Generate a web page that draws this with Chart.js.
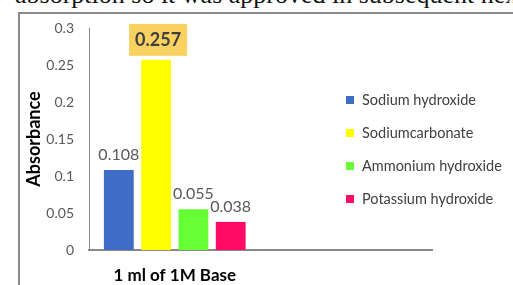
<!DOCTYPE html>
<html><head><meta charset="utf-8">
<script src="https://cdn.jsdelivr.net/npm/chart.js@4"></script>
<style>
html,body{margin:0;padding:0;background:#fff;width:513px;height:285px;overflow:hidden;position:relative}
#top{position:absolute;left:15px;top:-18px;font:26px "Liberation Serif";line-height:26px;white-space:nowrap;color:#111}
#frame{position:absolute;left:18px;top:12px;width:600px;height:400px;border:2px solid #8a8a8a;box-sizing:border-box}
#wrap{position:absolute;left:0;top:0;width:513px;height:285px}
</style></head><body>
<div id="top">absorption so it was approved in subsequent next</div>
<div id="frame"></div>
<div id="wrap"><canvas id="c" width="513" height="285"></canvas></div>
<script>
const categories = ["1 ml of 1M Base", ""];
const seriesNames = ["Sodium hydroxide", "Sodiumcarbonate", "Ammonium hydroxide", "Potassium hydroxide"];
const sodiumHydroxide = [0.108, null];
const sodiumCarbonate = [0.257, null];
const ammoniumHydroxide = [0.055, null];
const potassiumHydroxide = [0.038, null];
const seriesColors = ["#3f6cc4", "#ffff00", "#66ff33", "#ff0a64"];
const yTickLabels = ["0", "0.05", "0.1", "0.15", "0.2", "0.25", "0.3"];
const highlightedSeries = 1;

const seriesValues = [sodiumHydroxide, sodiumCarbonate, ammoniumHydroxide, potassiumHydroxide];
const FONT = 'Lato, "Open Sans", sans-serif';

const labelPlugin = {
  id: 'lbl',
  afterDatasetsDraw(chart) {
    const ctx = chart.ctx;
    ctx.save();
    chart.data.datasets.forEach((ds, i) => {
      const meta = chart.getDatasetMeta(i);
      meta.data.forEach((bar, j) => {
        const v = ds.data[j];
        if (v == null) return;
        const text = String(v);
        ctx.textAlign = 'center';
        ctx.textBaseline = 'middle';
        if (i === highlightedSeries) {
          ctx.font = 'bold 18px ' + FONT;
          const w = ctx.measureText(text).width + 12;
          const cy = bar.y - 20;
          ctx.fillStyle = '#f8d160';
          ctx.fillRect(bar.x + 2 - w / 2, cy - 16, w, 32);
          ctx.fillStyle = '#404040';
          ctx.fillText(text, bar.x + 2, cy);
        } else {
          ctx.font = '16px ' + FONT;
          ctx.fillStyle = '#595959';
          ctx.fillText(text, bar.x, bar.y - 15);
        }
      });
    });
    // legend
    const rows = [100, 133, 166, 199];
    chart.data.datasets.forEach((ds, i) => {
      const y = rows[i];
      ctx.fillStyle = ds.backgroundColor;
      ctx.fillRect(346, y - 4, 8, 8);
      ctx.font = '14.5px ' + FONT;
      ctx.fillStyle = '#404040';
      ctx.textAlign = 'left';
      ctx.textBaseline = 'middle';
      ctx.fillText(ds.label, 362, y);
    });
    ctx.restore();
  }
};

new Chart(document.getElementById('c'), {
  type: 'bar',
  data: {
    labels: categories,
    datasets: seriesNames.map((n, i) => ({
      label: n,
      data: seriesValues[i],
      backgroundColor: seriesColors[i],
      borderWidth: 0,
      categoryPercentage: 0.87,
      barPercentage: 0.8
    }))
  },
  options: {
    responsive: false,
    animation: false,
    layout: { padding: { left: 0, top: 28, right: 81, bottom: 0 } },
    plugins: { legend: { display: false }, tooltip: { enabled: false } },
    scales: {
      x: {
        grid: { display: false, drawTicks: false },
        border: { display: true, color: '#8a8a8a', width: 2 },
        ticks: { color: '#000', font: { family: FONT, size: 17, weight: 'bold' }, padding: 15, maxRotation: 0 },
        afterFit: s => { s.height = 35; }
      },
      y: {
        min: 0, max: 0.3,
        grid: { display: false, drawTicks: false },
        border: { display: true, color: '#8a8a8a', width: 1 },
        ticks: {
          stepSize: 0.05,
          color: '#595959',
          font: { family: FONT, size: 14 },
          padding: 15,
          callback: (v, i) => yTickLabels[i]
        },
        title: { display: true, text: 'Absorbance', color: '#000', font: { family: FONT, size: 18, weight: 'bold' }, padding: { top: 23, bottom: 0 } },
        afterFit: s => { s.width = 89; }
      }
    }
  },
  plugins: [labelPlugin]
});
</script>
</body></html>
